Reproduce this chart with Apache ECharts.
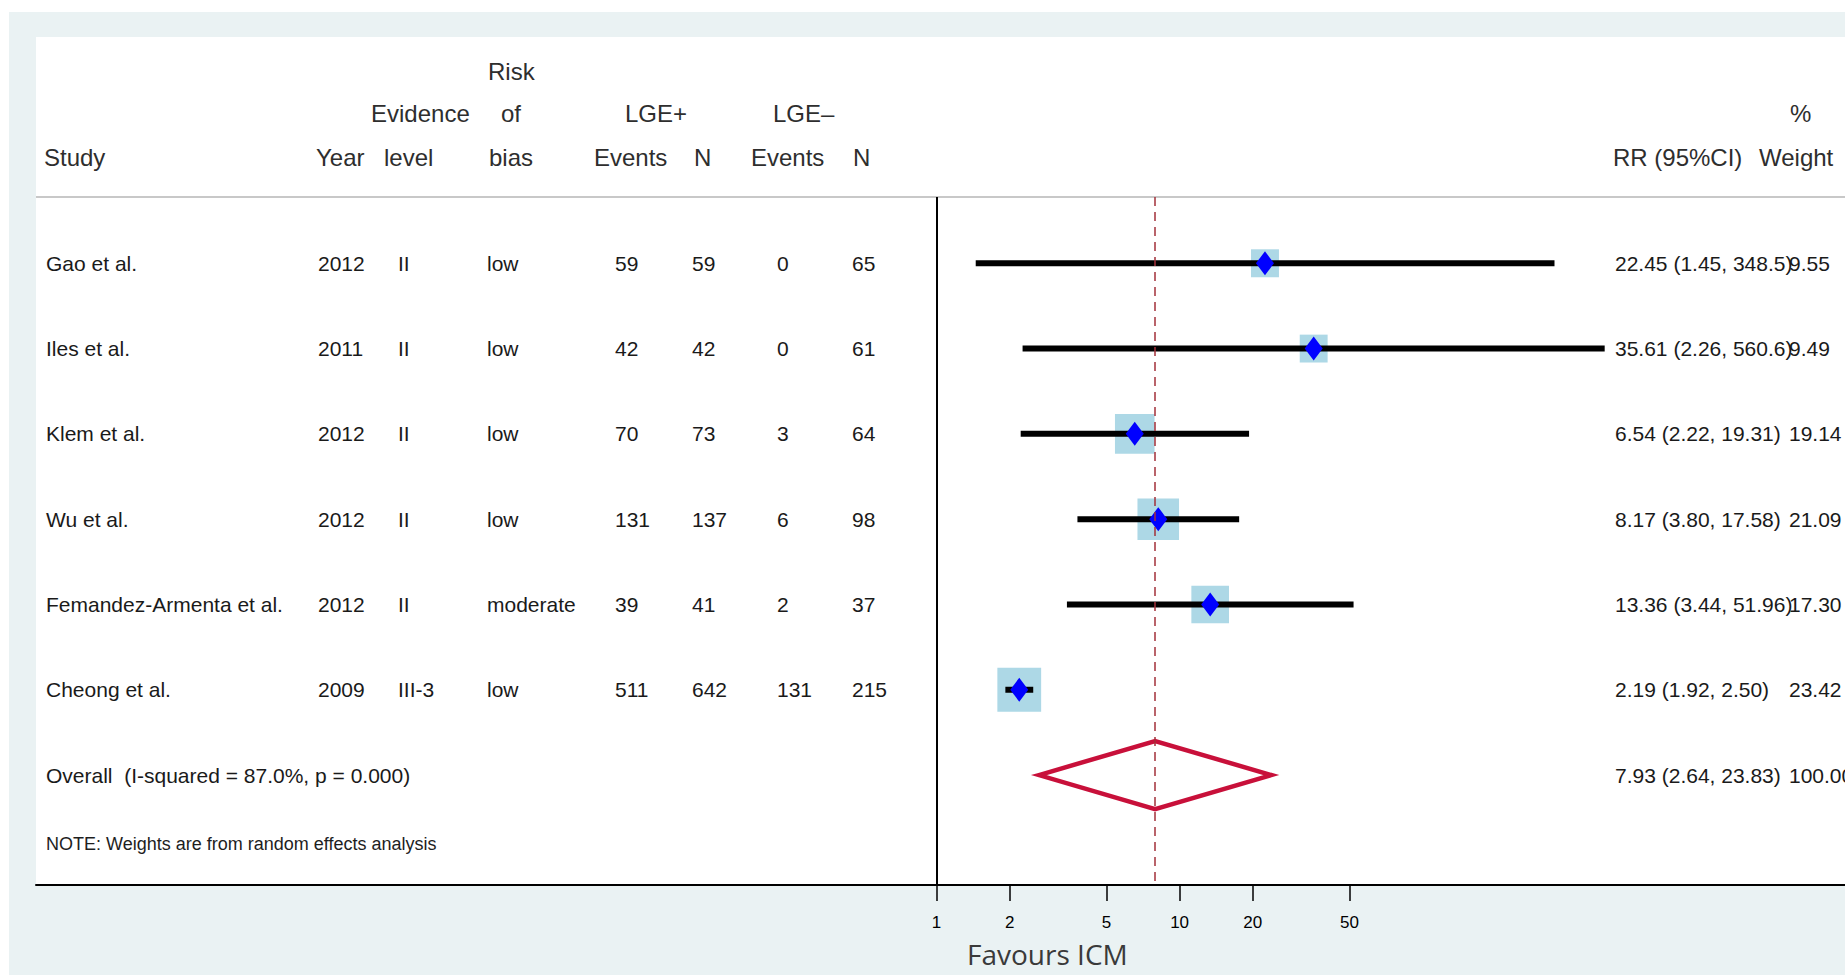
<!DOCTYPE html>
<html>
<head>
<meta charset="utf-8">
<script src="https://cdn.jsdelivr.net/npm/echarts@6/dist/echarts.min.js"></script>
<style>
html, body { margin: 0; padding: 0; background: #ffffff; }
#chart { width: 1845px; height: 975px; }
</style>
</head>
<body>
<div id="chart"></div>
<script>
// ---------------- data ----------------
const studies = ['Gao et al.', 'Iles et al.', 'Klem et al.', 'Wu et al.', 'Femandez-Armenta et al.', 'Cheong et al.'];
const years = ['2012', '2011', '2012', '2012', '2012', '2009'];
const evidenceLevels = ['II', 'II', 'II', 'II', 'II', 'III-3'];
const riskOfBias = ['low', 'low', 'low', 'low', 'moderate', 'low'];
const lgePosEvents = [59, 42, 70, 131, 39, 511];
const lgePosN = [59, 42, 73, 137, 41, 642];
const lgeNegEvents = [0, 0, 3, 6, 2, 131];
const lgeNegN = [65, 61, 64, 98, 37, 215];
const rr = [22.45, 35.61, 6.54, 8.17, 13.36, 2.19];
const rrLow = [1.45, 2.26, 2.22, 3.80, 3.44, 1.92];
const rrHigh = [348.5, 560.6, 19.31, 17.58, 51.96, 2.50];
const weights = [9.55, 9.49, 19.14, 21.09, 17.30, 23.42];
const overallRR = [7.93, 2.64, 23.83];   // estimate, lower, upper
const overallWeight = 100.00;
const overallLabel = 'Overall  (I-squared = 87.0%, p = 0.000)';
const noteText = 'NOTE: Weights are from random effects analysis';
const xTicks = [1, 2, 5, 10, 20, 50];
const axisTitle = 'Favours ICM';
const headerTop = ['Risk'];
const headerMid = ['Evidence', 'of', 'LGE+', 'LGE\u2013', '%'];
const headerBottom = ['Study', 'Year', 'level', 'bias', 'Events', 'N', 'Events', 'N', 'RR (95%CI)', 'Weight'];

// ---------------- layout / style ----------------
const FONT = "'Liberation Sans', Arial, Helvetica, sans-serif";
const BG = '#EAF2F3';
const colX = [46, 318, 398, 487, 615, 692, 777, 852, 1615, 1789];
const headerTopX = [488];
const headerMidX = [371, 501, 625, 773, 1790];
const headerBottomX = [44, 316, 384, 489, 594, 694, 751, 853, 1613, 1759];
const headerY = [71, 113, 157];

function fmt(v) {
  let s = v.toFixed(2);
  if (s.length > 5) s = v.toFixed(1);
  return s;
}
function ciLabel(est, lo, hi) {
  return fmt(est) + ' (' + fmt(lo) + ', ' + fmt(hi) + ')';
}

const overallRow = studies.length;
const rowTexts = studies.map((s, i) => [
  s, years[i], evidenceLevels[i], riskOfBias[i],
  String(lgePosEvents[i]), String(lgePosN[i]), String(lgeNegEvents[i]), String(lgeNegN[i]),
  ciLabel(rr[i], rrLow[i], rrHigh[i]), weights[i].toFixed(2)
]);
rowTexts.push([overallLabel, '', '', '', '', '', '', '',
  ciLabel(overallRR[0], overallRR[1], overallRR[2]), overallWeight.toFixed(2)]);

function headerTexts(texts, xs, y) {
  return texts.map((t, k) => ({
    type: 'text', x: xs[k], y: y, z: 10,
    style: { text: t, font: '24px ' + FONT, fill: '#2e2e2e', align: 'left', verticalAlign: 'middle' }
  }));
}

const chart = echarts.init(document.getElementById('chart'), null, { renderer: 'svg' });

const option = {
  backgroundColor: '#ffffff',
  animation: false,
  title: {
    text: axisTitle, left: 967, top: 940, padding: 0,
    textStyle: { fontFamily: "'Open Sans', sans-serif", fontSize: 28, fontWeight: 'normal', color: '#3a3a3a' }
  },
  grid: { left: 36, right: 0, top: 197, bottom: 90, containLabel: false },
  xAxis: {
    type: 'log', logBase: 10,
    min: 0.0001976, max: 5460,
    axisLine: { show: true, onZero: false, lineStyle: { color: '#000', width: 2 } },
    axisTick: { show: true, customValues: xTicks, length: 16, lineStyle: { color: '#000', width: 1.5 } },
    axisLabel: {
      customValues: xTicks, margin: 29, fontSize: 17, fontFamily: FONT, color: '#000',
      formatter: v => String(Math.round(v * 100) / 100)
    },
    splitLine: { show: false },
    minorTick: { show: false }
  },
  yAxis: { type: 'value', inverse: true, min: -0.777, max: 7.289, show: false },
  graphic: [
    { type: 'rect', z: -20, shape: { x: 9, y: 12, width: 1836, height: 963 }, style: { fill: BG } },
    { type: 'rect', z: -19, shape: { x: 36, y: 37, width: 1809, height: 848 }, style: { fill: '#ffffff' } },
    { type: 'line', z: 5, shape: { x1: 36, y1: 197, x2: 1845, y2: 197 }, style: { stroke: '#C8C8C8', lineWidth: 2 } },
    ...headerTexts(headerTop, headerTopX, headerY[0]),
    ...headerTexts(headerMid, headerMidX, headerY[1]),
    ...headerTexts(headerBottom, headerBottomX, headerY[2]),
    { type: 'text', x: 46, y: 844, z: 10,
      style: { text: noteText, font: '18px ' + FONT, fill: '#1e1e1e', align: 'left', verticalAlign: 'middle' } }
  ],
  series: [
    {
      // reference lines
      type: 'scatter', z: 1, data: [], silent: true,
      markLine: {
        silent: true, symbol: ['none', 'none'], label: { show: false },
        data: [
          { xAxis: 1, lineStyle: { color: '#000000', width: 2, type: 'solid' } },
          { xAxis: overallRR[0], lineStyle: { color: '#A3303A', width: 1.5, type: [9, 6] } }
        ]
      }
    },
    {
      // weight boxes
      type: 'scatter', z: 2, silent: true,
      symbol: 'rect',
      symbolSize: (val, p) => 9.05 * Math.sqrt(weights[p.dataIndex]),
      itemStyle: { color: '#ADD8E6', opacity: 1 },
      data: rr.map((v, i) => [v, i])
    },
    {
      // confidence intervals
      type: 'custom', z: 3, silent: true,
      encode: { x: [0, 1], y: 2 },
      data: rr.map((v, i) => [rrLow[i], rrHigh[i], i]),
      renderItem: (params, api) => {
        const a = api.coord([api.value(0), api.value(2)]);
        const b = api.coord([api.value(1), api.value(2)]);
        return { type: 'line', shape: { x1: a[0], y1: a[1], x2: b[0], y2: b[1] },
                 style: { stroke: '#000', lineWidth: 6 } };
      }
    },
    {
      // point estimates
      type: 'scatter', z: 4, silent: true,
      symbol: 'diamond', symbolSize: [18, 24],
      itemStyle: { color: '#0000FF', opacity: 1 },
      data: rr.map((v, i) => [v, i])
    },
    {
      // overall diamond
      type: 'custom', z: 4, silent: true,
      encode: { x: [0, 1, 2], y: 3 },
      data: [[overallRR[0], overallRR[1], overallRR[2], overallRow]],
      renderItem: (params, api) => {
        const row = api.value(3);
        const c = api.coord([api.value(0), row]);
        const l = api.coord([api.value(1), row]);
        const r = api.coord([api.value(2), row]);
        const h = 34;
        return { type: 'polygon',
                 shape: { points: [[l[0], l[1]], [c[0], c[1] - h], [r[0], r[1]], [c[0], c[1] + h]] },
                 style: { fill: 'none', stroke: '#C8103A', lineWidth: 4.5, lineJoin: 'miter' } };
      }
    },
    {
      // table text
      type: 'custom', z: 6, silent: true,
      encode: { x: 0, y: 1 },
      data: rowTexts.map((t, i) => [1, i]),
      renderItem: (params, api) => {
        const y = api.coord([1, api.value(1)])[1];
        const texts = rowTexts[params.dataIndex];
        return {
          type: 'group',
          children: texts.map((t, k) => ({
            type: 'text', x: colX[k], y: y,
            style: { text: t, font: '21px ' + FONT, fill: '#1a1a1a', align: 'left', verticalAlign: 'middle' }
          }))
        };
      }
    }
  ]
};
chart.setOption(option);
</script>
</body>
</html>
